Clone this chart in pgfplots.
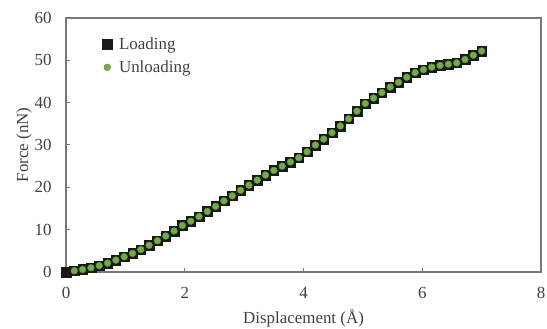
\documentclass[border=0pt]{standalone}
\usepackage{pgfplots}
\usepackage{pgfplotstable}
\pgfplotsset{compat=1.18}
\usepackage{fontspec}
\setmainfont{Liberation Serif}
\definecolor{grn}{HTML}{70AD47}
\definecolor{axgray}{RGB}{120,120,120}
\definecolor{txt}{RGB}{64,64,64}

\pgfplotstableread{
x F
0.00 0.0
0.14 0.3
0.28 0.6
0.42 1.0
0.56 1.5
0.70 2.1
0.84 2.8
0.98 3.6
1.12 4.4
1.26 5.3
1.40 6.3
1.54 7.4
1.68 8.5
1.82 9.7
1.96 11.0
2.10 12.0
2.24 13.1
2.38 14.3
2.52 15.5
2.66 16.8
2.80 18.0
2.94 19.3
3.08 20.5
3.22 21.7
3.36 22.9
3.50 24.0
3.64 25.0
3.78 26.0
3.92 27.0
4.06 28.4
4.20 30.0
4.34 31.4
4.48 32.9
4.62 34.5
4.76 36.2
4.90 38.0
5.04 39.8
5.18 41.1
5.32 42.4
5.46 43.7
5.60 44.8
5.74 46.0
5.88 47.1
6.02 47.8
6.16 48.4
6.30 48.8
6.44 49.1
6.58 49.4
6.72 50.2
6.86 51.2
7.00 52.2
}\loading

\pgfplotstableread{
x F
0.14 0.3
0.28 0.6
0.42 1.0
0.56 1.5
0.70 2.1
0.84 2.8
0.98 3.6
1.12 4.4
1.26 5.3
1.40 6.3
1.54 7.4
1.68 8.5
1.82 9.7
1.96 11.0
2.10 12.0
2.24 13.1
2.38 14.3
2.52 15.5
2.66 16.8
2.80 18.0
2.94 19.3
3.08 20.5
3.22 21.7
3.36 22.9
3.50 24.0
3.64 25.0
3.78 26.0
3.92 27.0
4.06 28.4
4.20 30.0
4.34 31.4
4.48 32.9
4.62 34.5
4.76 36.2
4.90 38.0
5.04 39.8
5.18 41.1
5.32 42.4
5.46 43.7
5.60 44.8
5.74 46.0
5.88 47.1
6.02 47.8
6.16 48.4
6.30 48.8
6.44 49.1
6.58 49.4
6.72 50.2
6.86 51.2
7.00 52.2
}\unloading

\begin{document}
\begin{tikzpicture}
\begin{axis}[
  scale only axis,
  width=475bp, height=254bp,
  xmin=0, xmax=8, ymin=0, ymax=60,
  xtick={0,2,...,8}, ytick={0,10,...,60},
  tick align=inside,
  major tick length=4bp,
  tick style={axgray, line width=1pt},
  xtick pos=bottom, ytick pos=left,
  axis line style={axgray, line width=1.3pt},
  /pgf/number format/assume math mode=true,
  tick label style={font=\fontsize{17}{20}\selectfont, text=txt},
  label style={font=\fontsize{17}{20}\selectfont, text=txt},
  xticklabel style={yshift=-12bp},
  yticklabel style={xshift=-11bp},
  xlabel={Displacement (Å)},
  ylabel={Force (nN)},
  xlabel style={yshift=-4bp},
  ylabel style={yshift=-4bp},
  legend style={draw=none, fill=none, at={(rel axis cs:0.07,0.94)}, anchor=north west,
    font=\fontsize{17}{20}\selectfont, text=txt, row sep=6bp,
    /tikz/every odd column/.append style={column sep=5bp}},
  legend image code/.code={\draw[#1] plot coordinates {(0.1cm,0cm)};},
  legend cell align=left,
  clip=false,
]
\addplot[only marks, mark=square*, mark size=4.8bp, mark options={fill=black!90, draw=black!90}] table {\loading};
\addlegendentry{Loading}
\addplot[only marks, mark=*, mark size=3.4bp, mark options={fill=grn, draw=grn!85!black, line width=0.4pt}] table {\unloading};
\addlegendentry{Unloading}
\end{axis}
\pgfresetboundingbox
\path ([shift={(-66bp,-57bp)}]current axis.south west) rectangle ([shift={(6bp,18bp)}]current axis.north east);
\end{tikzpicture}
\end{document}
